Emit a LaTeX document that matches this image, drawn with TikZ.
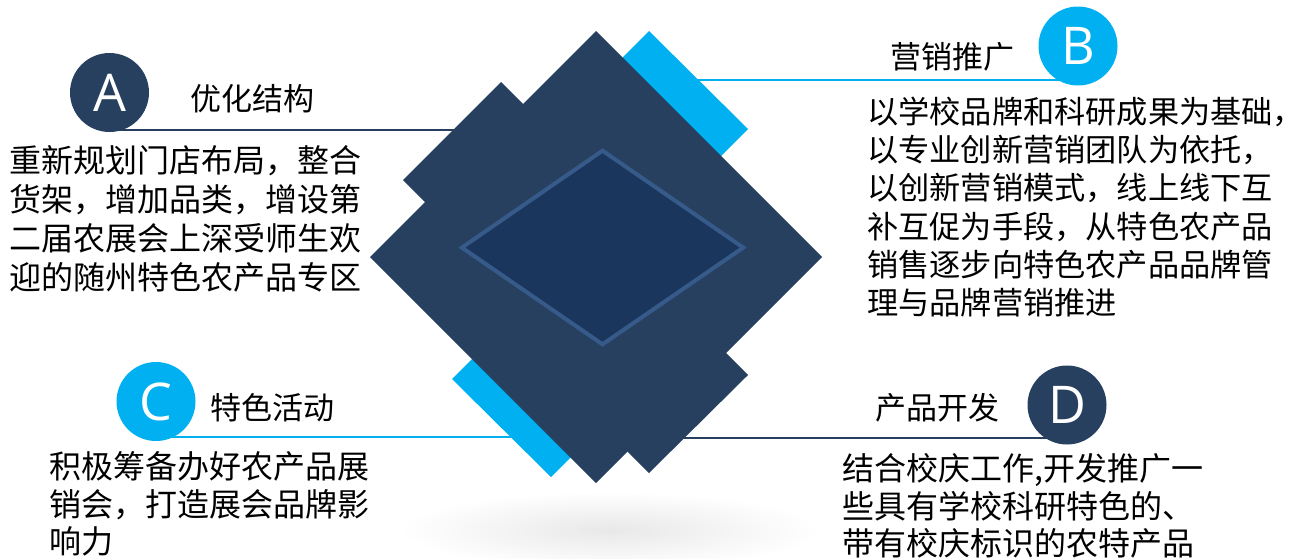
\documentclass[tikz,border=0pt]{standalone}
\usepackage{fontspec}
\setmainfont{Open Sans}
\newfontfamily\cjk{Noto Sans CJK SC}

\definecolor{navy}{RGB}{39,64,96}
\definecolor{sky}{RGB}{0,176,240}
\definecolor{core}{RGB}{26,54,92}
\definecolor{rim}{RGB}{54,90,138}

\tikzset{
  badge/.style={circle, inner sep=0pt, minimum size=79pt, text=white,
    font=\fontsize{52}{52}\selectfont},
  heading/.style={inner sep=0pt, font=\cjk\fontsize{31}{31}\selectfont},
  body/.style={inner sep=0pt, anchor=north west, align=left,
    font=\cjk\fontsize{32}{#1}\selectfont},
  link/.style={line width=2pt},
}

\begin{document}
\begin{tikzpicture}[x=1pt,y=-1pt]
  \useasboundingbox (0,0) rectangle (1305,558);

  % soft shadow under the block
  \shade[inner color=black!9, outer color=white] (610,530) ellipse [x radius=210, y radius=38];

  % badge centres and where the rules meet the block
  \coordinate (pa) at (109.5,92.5);
  \coordinate (pb) at (1078,46);
  \coordinate (pc) at (156,401.5);
  \coordinate (pd) at (1067,405);
  \coordinate (ea) at (480,129.5);
  \coordinate (eb) at (680,80);
  \coordinate (ec) at (530,437);
  \coordinate (ed) at (660,437.5);

  \foreach \n/\c in {a/navy, b/sky, c/sky, d/navy} {
    \draw[link, \c] (p\n |- e\n) -- (e\n);
  }

  % block
  \fill[sky] (649,31) -- (748,129) -- (648,229) -- (549,131) -- cycle;
  \fill[sky] (452,379) -- (551,477) -- (651,377) -- (552,279) -- cycle;
  \fill[navy] (596,31) -- (822,257) -- (596,483) -- (370,257) -- cycle;
  \fill[navy] (403,180) -- (501,82) -- (601,182) -- (503,280) -- cycle;
  \fill[navy] (649,473) -- (748,375) -- (648,275) -- (549,373) -- cycle;
  \filldraw[fill=core, draw=rim, line width=4pt]
    (602.5,150.7) -- (743.2,247.6) -- (602.5,344.3) -- (461.9,247.6) -- cycle;

  \foreach \n/\c/\l in {a/navy/A, b/sky/B, c/sky/C, d/navy/D} {
    \node[badge, fill=\c] (\n) at (p\n) {\l};
  }

  \node[heading] (ta) at (252.5,99) {优化结构};
  \node[heading] (tb) at (952.5,57) {营销推广};
  \node[heading] (tc) at (272.5,407.5) {特色活动};
  \node[heading] (td) at (937.5,407.5) {产品开发};

  \node[body=39] (xa) at (9,145.5)
    {重新规划门店布局，整合\\货架，增加品类，增设第\\二届农展会上深受师生欢\\迎的随州特色农产品专区};
  \node[body=38.3, font=\cjk\fontsize{31.2}{38.3}\selectfont] (xb) at (867,96.5)
    {以学校品牌和科研成果为基础，\\以专业创新营销团队为依托，\\以创新营销模式，线上线下互\\补互促为手段，从特色农产品\\销售逐步向特色农产品品牌管\\理与品牌营销推进};
  \node[body=37.5] (xc) at (49,451.5)
    {积极筹备办好农产品展\\销会，打造展会品牌影\\响力};
  \node[body=37.5] (xd) at (842,453.5)
    {结合校庆工作,开发推广一\\些具有学校科研特色的、\\带有校庆标识的农特产品};
\end{tikzpicture}
\end{document}
